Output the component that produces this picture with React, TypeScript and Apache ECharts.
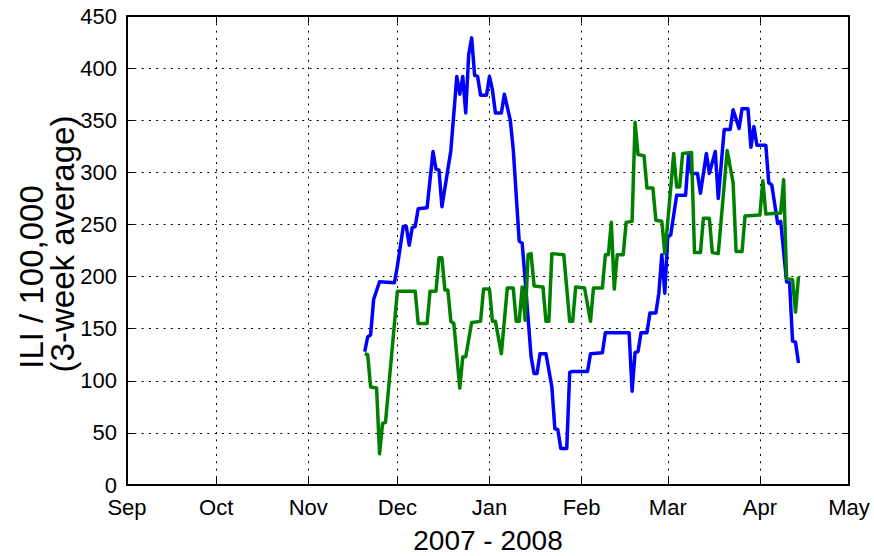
import React, { useEffect, useRef } from "react";
import * as echarts from "echarts";

const monthLabels = ["Jan", "Feb", "Mar", "Apr", "May", "Jun", "Jul", "Aug", "Sep", "Oct", "Nov", "Dec"];
const axisStart = "2007-09-01";
const axisEnd = "2008-05-01";
const yTicks = [0, 50, 100, 150, 200, 250, 300, 350, 400, 450];

const blueDates = [
  "2007-11-20", "2007-11-21", "2007-11-22", "2007-11-23", "2007-11-25", "2007-11-30",
  "2007-12-01", "2007-12-03", "2007-12-04", "2007-12-05", "2007-12-06", "2007-12-07",
  "2007-12-08", "2007-12-11", "2007-12-13", "2007-12-14", "2007-12-15", "2007-12-16",
  "2007-12-19", "2007-12-21", "2007-12-22", "2007-12-23", "2007-12-24", "2007-12-25",
  "2007-12-26", "2007-12-27", "2007-12-28", "2007-12-29", "2007-12-31", "2008-01-01",
  "2008-01-02", "2008-01-03", "2008-01-05", "2008-01-06", "2008-01-08", "2008-01-09",
  "2008-01-11", "2008-01-12", "2008-01-13", "2008-01-15", "2008-01-16", "2008-01-17",
  "2008-01-18", "2008-01-20", "2008-01-22", "2008-01-23", "2008-01-24", "2008-01-25",
  "2008-01-27", "2008-01-28", "2008-01-29", "2008-02-03", "2008-02-04", "2008-02-08",
  "2008-02-09", "2008-02-17", "2008-02-18", "2008-02-19", "2008-02-20", "2008-02-21",
  "2008-02-23", "2008-02-24", "2008-02-26", "2008-02-27", "2008-02-28", "2008-02-29",
  "2008-03-01", "2008-03-02", "2008-03-04", "2008-03-07", "2008-03-08", "2008-03-09",
  "2008-03-11", "2008-03-12", "2008-03-14", "2008-03-15", "2008-03-17", "2008-03-18",
  "2008-03-20", "2008-03-22", "2008-03-23", "2008-03-25", "2008-03-26", "2008-03-28",
  "2008-03-29", "2008-03-30", "2008-03-31", "2008-04-03", "2008-04-04", "2008-04-05",
  "2008-04-07", "2008-04-08", "2008-04-10", "2008-04-11", "2008-04-12", "2008-04-13",
  "2008-04-14",
];
const blueValues = [
  128, 142, 144, 178, 195, 194,
  210, 248, 248, 230, 247, 248,
  265, 266, 320, 303, 302, 267,
  321, 392, 375, 392, 357, 413,
  429, 393, 392, 374, 374, 392,
  379, 357, 357, 375, 350, 322,
  234, 232, 197, 123, 107, 107,
  126, 126, 94, 54, 53, 35,
  35, 108, 109, 109, 126, 127,
  146, 146, 90, 127, 128, 146,
  146, 165, 165, 184, 221, 184,
  238, 240, 278, 278, 317, 299,
  299, 280, 318, 299, 320, 275,
  341, 341, 360, 342, 361, 361,
  324, 344, 326, 326, 290, 288,
  251, 253, 195, 194, 138, 137,
  117,
];

const greenDates = [
  "2007-11-20", "2007-11-21", "2007-11-22", "2007-11-24", "2007-11-25", "2007-11-26",
  "2007-11-27", "2007-11-29", "2007-12-01", "2007-12-07", "2007-12-08", "2007-12-11",
  "2007-12-12", "2007-12-14", "2007-12-15", "2007-12-16", "2007-12-17", "2007-12-18",
  "2007-12-19", "2007-12-20", "2007-12-22", "2007-12-23", "2007-12-24", "2007-12-26",
  "2007-12-29", "2007-12-30", "2008-01-01", "2008-01-02", "2008-01-03", "2008-01-05",
  "2008-01-07", "2008-01-09", "2008-01-10", "2008-01-11", "2008-01-12", "2008-01-13",
  "2008-01-14", "2008-01-15", "2008-01-16", "2008-01-19", "2008-01-20", "2008-01-21",
  "2008-01-22", "2008-01-26", "2008-01-28", "2008-01-29", "2008-01-30", "2008-02-02",
  "2008-02-04", "2008-02-05", "2008-02-08", "2008-02-09", "2008-02-10", "2008-02-11",
  "2008-02-12", "2008-02-13", "2008-02-15", "2008-02-16", "2008-02-18", "2008-02-19",
  "2008-02-20", "2008-02-22", "2008-02-23", "2008-02-25", "2008-02-26", "2008-02-28",
  "2008-02-29", "2008-03-01", "2008-03-02", "2008-03-03", "2008-03-04", "2008-03-05",
  "2008-03-06", "2008-03-09", "2008-03-10", "2008-03-12", "2008-03-13", "2008-03-15",
  "2008-03-16", "2008-03-18", "2008-03-21", "2008-03-23", "2008-03-24", "2008-03-26",
  "2008-03-27", "2008-04-01", "2008-04-02", "2008-04-03", "2008-04-08", "2008-04-09",
  "2008-04-10", "2008-04-12", "2008-04-13", "2008-04-14",
];
const greenValues = [
  126, 125, 94, 93, 30, 59,
  60, 123, 186, 186, 155, 155,
  186, 186, 218, 218, 187, 187,
  157, 155, 93, 123, 123, 156,
  157, 188, 188, 157, 157, 126,
  189, 189, 157, 157, 190, 158,
  221, 222, 191, 190, 157, 157,
  222, 221, 157, 157, 190, 189,
  157, 189, 189, 221, 221, 252,
  188, 221, 221, 252, 253, 348,
  317, 316, 285, 285, 254, 253,
  222, 253, 285, 318, 286, 286,
  318, 319, 223, 223, 256, 256,
  223, 222, 321, 290, 224, 224,
  258, 259, 292, 260, 261, 293,
  198, 197, 166, 200,
];

function parseLocal(s: string): number {
  const [y, m, d] = s.split("-").map(Number);
  return new Date(y, m - 1, d).getTime();
}

const FONT = "Liberation Sans, Arial, sans-serif";
const DAY = 24 * 3600 * 1000;

export default function App() {
  const ref = useRef<HTMLDivElement>(null);

  useEffect(() => {
    if (!ref.current) return;
    const chart = echarts.init(ref.current, null, { renderer: "svg" });
    const blue = blueDates.map((d, i) => [parseLocal(d), blueValues[i]]);
    const green = greenDates.map((d, i) => [parseLocal(d), greenValues[i]]);
    const xMin = parseLocal(axisStart);
    const xMax = parseLocal(axisEnd);
    const dotted = { color: "#000", width: 1, type: [2, 5.3] as number[] };
    const frame = { show: true, onZero: false, lineStyle: { color: "#000", width: 2 } };
    const ticks = { show: true, inside: true, length: 7, lineStyle: { color: "#000", width: 1 } };

    chart.setOption({
      animation: false,
      backgroundColor: "#fff",
      grid: { left: 127, right: 25, top: 16, bottom: 71, containLabel: false, outerBoundsMode: "none" },
      xAxis: [
        {
          type: "time",
          min: xMin,
          max: xMax,
          splitNumber: 8,
          minInterval: 28 * DAY,
          maxInterval: 31 * DAY,
          axisLine: frame,
          axisTick: ticks,
          axisLabel: {
            show: true,
            margin: 11,
            color: "#000",
            fontSize: 22,
            fontFamily: FONT,
            showMinLabel: true,
            showMaxLabel: true,
            hideOverlap: false,
            formatter: (v: number) => monthLabels[new Date(v).getMonth()],
          },
          splitLine: { show: true, lineStyle: dotted },
          minorTick: { show: false },
        },
        {
          type: "time",
          position: "top",
          min: xMin,
          max: xMax,
          splitNumber: 8,
          minInterval: 28 * DAY,
          maxInterval: 31 * DAY,
          axisLine: frame,
          axisTick: ticks,
          axisLabel: { show: false },
          splitLine: { show: false },
        },
      ],
      yAxis: [
        {
          type: "value",
          min: yTicks[0],
          max: yTicks[yTicks.length - 1],
          interval: 50,
          axisLine: frame,
          axisTick: ticks,
          axisLabel: { margin: 10, color: "#000", fontSize: 22, fontFamily: FONT },
          splitLine: { show: true, lineStyle: dotted },
        },
        {
          type: "value",
          position: "right",
          min: yTicks[0],
          max: yTicks[yTicks.length - 1],
          interval: 50,
          axisLine: frame,
          axisTick: ticks,
          axisLabel: { show: false },
          splitLine: { show: false },
        },
      ],
      series: [
        {
          type: "line",
          data: blue,
          xAxisIndex: 0,
          yAxisIndex: 0,
          showSymbol: false,
          symbol: "none",
          lineStyle: { color: "#0000ff", width: 3.5, join: "round" },
          z: 3,
        },
        {
          type: "line",
          data: green,
          xAxisIndex: 0,
          yAxisIndex: 0,
          showSymbol: false,
          symbol: "none",
          lineStyle: { color: "#008000", width: 3.5, join: "round" },
          z: 4,
        },
      ],
      graphic: [
        {
          type: "text",
          x: 31,
          y: 277,
          rotation: Math.PI / 2,
          style: {
            text: "ILI / 100,000",
            fontSize: 33,
            fontFamily: FONT,
            fill: "#000",
            textAlign: "center",
            textVerticalAlign: "middle",
          },
        },
        {
          type: "text",
          x: 62,
          y: 244,
          rotation: Math.PI / 2,
          style: {
            text: "(3-week average)",
            fontSize: 33,
            fontFamily: FONT,
            fill: "#000",
            textAlign: "center",
            textVerticalAlign: "middle",
          },
        },
        {
          type: "text",
          x: 488,
          y: 540,
          style: {
            text: "2007 - 2008",
            fontSize: 28,
            fontFamily: FONT,
            fill: "#000",
            textAlign: "center",
            textVerticalAlign: "middle",
          },
        },
      ],
    });
    return () => chart.dispose();
  }, []);

  return (
    <div
      ref={ref}
      style={{ position: "fixed", left: 0, top: 0, width: 874, height: 556, background: "#fff" }}
    />
  );
}
